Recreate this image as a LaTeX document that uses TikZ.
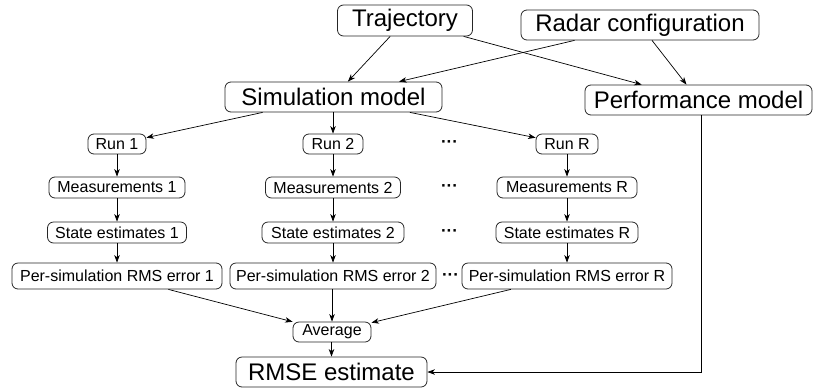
\documentclass[tikz,border=0pt]{standalone}
\usepackage{fontspec}
\setmainfont{Liberation Sans}
\usetikzlibrary{arrows.meta}
\tikzset{
  box/.style={draw=black!85, line width=0.8pt, rounded corners=6pt, inner sep=1pt, align=center},
  big/.style={box, font=\fontsize{24}{28}\selectfont, minimum height=30pt},
  small/.style={box, font=\fontsize{16}{19}\selectfont, minimum height=21pt},
  conn/.style={line width=0.7pt, -{Stealth[length=7.5pt,width=5.5pt,inset=2.2pt]}},
  dotsnode/.style={font=\fontsize{17}{19}\selectfont\bfseries, inner sep=0pt}
}
\begin{document}
\begin{tikzpicture}[x=1pt,y=-1pt]
\useasboundingbox (0,0) rectangle (813,389);
% top row
\node[big, minimum width=135pt, minimum height=31pt] (traj) at (405,20.5) {Trajectory};
\node[big, minimum width=238pt] (radar) at (640,25) {Radar configuration};
\node[big, minimum width=217pt] (sim) at (333.5,97) {Simulation model};
\node[big, minimum width=227pt] (perf) at (698.5,100) {Performance model};
% runs
\node[small, minimum width=58pt, minimum height=20pt] (run1) at (117,144) {Run 1};
\node[small, minimum width=60pt, minimum height=20pt] (run2) at (333,144) {Run 2};
\node[small, minimum width=62pt, minimum height=20pt] (runR) at (567,144) {Run R};
% measurements
\node[small, minimum width=136pt] (meas1) at (117,187.5) {Measurements 1};
\node[small, minimum width=135pt] (meas2) at (333,187.5) {Measurements 2};
\node[small, minimum width=140pt] (measR) at (567,187.5) {Measurements R};
% state estimates
\node[small, minimum width=139pt] (state1) at (117,232.5) {State estimates 1};
\node[small, minimum width=142pt] (state2) at (333,232.5) {State estimates 2};
\node[small, minimum width=142pt] (stateR) at (567,232.5) {State estimates R};
% per-simulation errors
\node[small, minimum width=210pt, minimum height=26pt] (per1) at (117,276) {Per-simulation RMS error 1};
\node[small, minimum width=206pt, minimum height=26pt] (per2) at (333,276) {Per-simulation RMS error 2};
\node[small, minimum width=210pt, minimum height=26pt] (perR) at (567,276) {Per-simulation RMS error R};
% dots
\node[dotsnode] (d1) at (449.5,144) {\textperiodcentered\textperiodcentered\textperiodcentered};
\node[dotsnode] (d2) at (449.5,188) {\textperiodcentered\textperiodcentered\textperiodcentered};
\node[dotsnode] (d3) at (449.5,233) {\textperiodcentered\textperiodcentered\textperiodcentered};
\node[dotsnode] (d4) at (450.5,277) {\textperiodcentered\textperiodcentered\textperiodcentered};
% bottom
\node[small, minimum width=78pt, minimum height=20pt] (avg) at (332,332) {Average};
\node[big, minimum width=191pt] (rmse) at (331.5,372) {RMSE estimate};
% connectors
\draw[conn] (traj) -- (sim);
\draw[conn] (traj) -- (perf);
\draw[conn] (radar) -- (sim);
\draw[conn] (radar) -- (perf);
\draw[conn] (sim) -- (run1);
\draw[conn] (sim.south -| run2) -- (run2);
\draw[conn] (sim) -- (runR);
\draw[conn] (run1) -- (meas1);
\draw[conn] (run2) -- (meas2);
\draw[conn] (runR) -- (measR);
\draw[conn] (meas1) -- (state1);
\draw[conn] (meas2) -- (state2);
\draw[conn] (measR) -- (stateR);
\draw[conn] (state1) -- (per1);
\draw[conn] (state2) -- (per2);
\draw[conn] (stateR) -- (perR);
\draw[conn] (per1) -- (avg);
\draw[conn] (per2.south -| avg) -- (avg);
\draw[conn] (perR) -- (avg);
\draw[conn] (avg.south -| rmse) -- (rmse);
\draw[conn] ([xshift=2.5pt]perf.south) |- (rmse.east);
\end{tikzpicture}
\end{document}
